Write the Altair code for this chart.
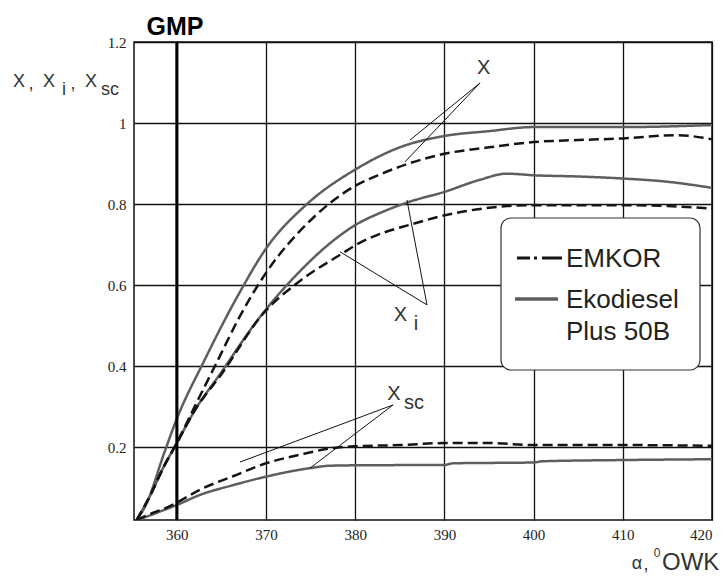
import altair as alt
import pandas as pd

# ---------------- data ----------------
fuels = ["EMKOR", "Ekodiesel"]

# Ekodiesel Plus 50B (solid grey)
eko_x_alpha = [355.5, 356.6, 358.5, 360, 363, 367, 370, 374.6, 380, 385, 390, 395, 400, 410, 420]
eko_x_val   = [0.02, 0.06, 0.18, 0.27, 0.41, 0.58, 0.69, 0.80, 0.885, 0.94, 0.968, 0.98, 0.99, 0.99, 0.995]

eko_xi_alpha = [355.5, 357, 358.5, 360, 362, 365, 368.6, 370, 373.8, 377, 380, 383, 386, 390, 394, 397, 400, 405, 410, 415, 420]
eko_xi_val   = [0.02, 0.08, 0.15, 0.21, 0.29, 0.385, 0.50, 0.54, 0.634, 0.70, 0.748, 0.78, 0.805, 0.83, 0.86, 0.875, 0.871, 0.868, 0.863, 0.855, 0.84]

eko_xsc_alpha = [355.5, 356.2, 358, 360, 362.6, 366.3, 370, 374.9, 377.2, 380, 390, 391, 400, 401, 410, 420]
eko_xsc_val   = [0.02, 0.025, 0.04, 0.057, 0.082, 0.106, 0.127, 0.148, 0.154, 0.155, 0.156, 0.16, 0.162, 0.165, 0.168, 0.17]

# EMKOR (dashed black)
emk_x_alpha = [355.5, 357, 358.5, 360, 362, 364.5, 367, 370, 375, 380, 383, 386, 390, 395, 400, 405, 410, 416, 420]
emk_x_val   = [0.02, 0.08, 0.15, 0.21, 0.30, 0.41, 0.52, 0.63, 0.76, 0.845, 0.875, 0.90, 0.924, 0.94, 0.953, 0.958, 0.962, 0.97, 0.96]

emk_xi_alpha = [355.5, 357, 358.5, 360, 362, 365, 369.7, 373.8, 378.7, 380, 383, 386, 390, 394, 397, 400, 405, 410, 415, 420]
emk_xi_val   = [0.02, 0.08, 0.15, 0.21, 0.29, 0.38, 0.53, 0.61, 0.68, 0.698, 0.728, 0.748, 0.772, 0.788, 0.795, 0.797, 0.797, 0.797, 0.795, 0.789]

emk_xsc_alpha = [355.5, 357, 358.8, 360, 362.6, 366.3, 370, 373.8, 377.6, 380, 385, 390, 395, 400, 410, 420]
emk_xsc_val   = [0.02, 0.035, 0.05, 0.063, 0.095, 0.128, 0.16, 0.181, 0.198, 0.202, 0.205, 0.21, 0.21, 0.205, 0.205, 0.203]

gmp_alpha = [360]

x_ticks = [360, 370, 380, 390, 400, 410, 420]
y_ticks = [0.2, 0.4, 0.6, 0.8, 1.0, 1.2]

# leader lines of the curve labels: (alpha0, val0, alpha1, val1)
lead_a0 = [394.0, 394.0, 388.05, 388.05, 384.24, 384.24]
lead_v0 = [1.099, 1.099, 0.551, 0.551, 0.304, 0.304]
lead_a1 = [386.14, 385.58, 378.3, 385.8, 367.08, 374.93]
lead_v1 = [0.958, 0.904, 0.682, 0.81, 0.163, 0.148]

# curve labels
lab_text  = ["X", "X", "i", "X", "sc"]
lab_alpha = [394.4, 385.08, 386.8, 384.35, 386.6]
lab_val   = [1.135, 0.525, 0.504, 0.33, 0.309]

# ---------------- build tables ----------------
rows = []
for fuel, curve, a, v in [
    ("Ekodiesel", "eko_x", eko_x_alpha, eko_x_val),
    ("Ekodiesel", "eko_xi", eko_xi_alpha, eko_xi_val),
    ("Ekodiesel", "eko_xsc", eko_xsc_alpha, eko_xsc_val),
    ("EMKOR", "emk_x", emk_x_alpha, emk_x_val),
    ("EMKOR", "emk_xi", emk_xi_alpha, emk_xi_val),
    ("EMKOR", "emk_xsc", emk_xsc_alpha, emk_xsc_val),
]:
    for ai, vi in zip(a, v):
        rows.append({"alpha": ai, "value": vi, "fuel": fuel, "curve": curve})
lines_df = pd.DataFrame(rows)
lead_df = pd.DataFrame({"a0": lead_a0, "v0": lead_v0, "a1": lead_a1, "v1": lead_v1})
lab_df = pd.DataFrame({"t": lab_text, "alpha": lab_alpha, "value": lab_val})
gmp_df = pd.DataFrame({"alpha": gmp_alpha})
one = pd.DataFrame({"k": [0]})

L, T = 134, 42
W, H = 578, 478

xs = alt.Scale(domain=[355.2, 420], nice=False, zero=False)
ys = alt.Scale(domain=[0.02, 1.2], nice=False, zero=False)

x_axis = alt.Axis(values=x_ticks, grid=True, gridColor="#111", gridWidth=1.3, tickSize=0,
                  labelPadding=7, domain=False, title=None, format="d",
                  labelFont="Liberation Serif", labelFontSize=15, labelColor="#222")
y_axis = alt.Axis(values=y_ticks, grid=True, gridColor="#111", gridWidth=1.3, tickSize=0,
                  labelPadding=8, domain=False, title=None,
                  labelExpr="datum.value == 1 ? '1' : format(datum.value, '.1f')",
                  labelFont="Liberation Serif", labelFontSize=15, labelColor="#222")

curves = alt.Chart(lines_df).mark_line(strokeWidth=2.5, clip=True, interpolate="monotone").encode(
    x=alt.X("alpha:Q", scale=xs, axis=x_axis),
    y=alt.Y("value:Q", scale=ys, axis=y_axis),
    color=alt.Color("fuel:N", scale=alt.Scale(domain=fuels, range=["#151515", "#5e5e5e"]), legend=None),
    strokeDash=alt.StrokeDash("fuel:N", scale=alt.Scale(domain=fuels, range=[[10, 5], [1, 0]]), legend=None),
    detail="curve:N",
)

gmp = alt.Chart(gmp_df).mark_rule(color="#000", strokeWidth=3).encode(
    x=alt.X("alpha:Q", scale=xs)
)

leads = alt.Chart(lead_df).mark_rule(color="#111", strokeWidth=1).encode(
    x=alt.X("a0:Q", scale=xs), y=alt.Y("v0:Q", scale=ys),
    x2="a1:Q", y2="v1:Q",
)

labels = alt.Chart(lab_df).mark_text(font="Liberation Sans", fontSize=20, color="#333",
                                      align="center", baseline="middle").encode(
    x=alt.X("alpha:Q", scale=xs), y=alt.Y("value:Q", scale=ys), text="t:N"
)


def txt(text, px, py, size, align="center", baseline="alphabetic", weight="normal",
        font="Liberation Sans", color="#222"):
    return alt.Chart(one).mark_text(text=text, fontSize=size, align=align, baseline=baseline,
                                    fontWeight=weight, font=font, color=color).encode(
        x=alt.value(px - L), y=alt.value(py - T))


# legend box
legend_box = alt.Chart(one).mark_rect(fill="white", stroke="#333", strokeWidth=1.2,
                                      cornerRadius=10).encode(
    x=alt.value(501 - L), x2=alt.value(700 - L), y=alt.value(218 - T), y2=alt.value(370 - T))
leg_emk = alt.Chart(one).mark_rule(color="#151515", strokeWidth=3,
                                   strokeDash=[13, 4, 3, 5, 20]).encode(
    x=alt.value(517 - L), x2=alt.value(562 - L), y=alt.value(258 - T))
leg_eko = alt.Chart(one).mark_rule(color="#5e5e5e", strokeWidth=3.5).encode(
    x=alt.value(515 - L), x2=alt.value(558 - L), y=alt.value(299 - T))

texts = [
    txt("EMKOR", 566, 267, 26, align="left"),
    txt("Ekodiesel", 566, 308, 26, align="left"),
    txt("Plus 50B", 566, 340, 26, align="left"),
    txt("GMP", 175, 35, 25, weight="bold", color="#000"),
    # y title
    txt("X", 19, 87, 18, color="#333"),
    txt(",", 31, 89, 18, color="#333"),
    txt("X", 49, 87, 18, color="#333"),
    txt("i", 64, 95, 18, color="#333"),
    txt(",", 73, 89, 18, color="#333"),
    txt("X", 91, 87, 18, color="#333"),
    txt("sc", 110, 95, 18, color="#333"),
    # x title
    txt("α", 637, 569, 18, color="#333"),
    txt(",", 646, 570, 18, color="#333"),
    txt("0", 657, 557, 12, color="#333"),
    txt("OWK", 662, 570, 24, align="left", color="#333"),
]

chart = alt.layer(curves, gmp, leads, labels, legend_box, leg_emk, leg_eko, *texts).properties(
    width=W, height=H,
    autosize=alt.AutoSizeParams(type="none"),
    padding={"left": L, "top": T, "right": 727 - L - W, "bottom": 576 - T - H},
    background="white",
).configure_view(stroke="#111", strokeWidth=1.5)

chart.save("out.html", embed_options={"renderer": "svg", "actions": False})
